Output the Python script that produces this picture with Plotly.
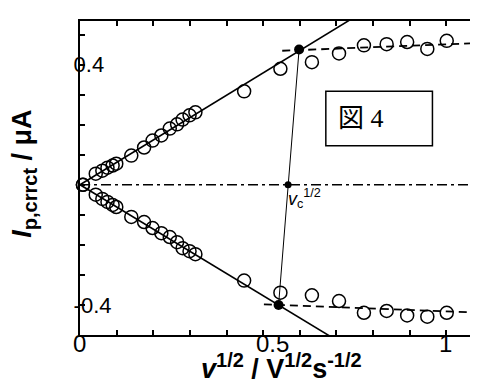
import plotly.graph_objects as go

# ---- data ----
x_sqrt_v = [0.008, 0.043, 0.061, 0.075, 0.089, 0.099, 0.140, 0.175, 0.198, 0.222,
            0.245, 0.265, 0.280, 0.299, 0.315, 0.448, 0.547, 0.633, 0.707, 0.775,
            0.837, 0.893, 0.948, 1.001]
ip_upper = [0.000, 0.037, 0.047, 0.057, 0.064, 0.070, 0.097, 0.124, 0.147, 0.164,
            0.187, 0.201, 0.217, 0.231, 0.241, 0.311, 0.386, 0.408, 0.437, 0.464,
            0.468, 0.475, 0.452, 0.479]
ip_lower = [0.000, -0.033, -0.047, -0.057, -0.067, -0.074, -0.107, -0.124, -0.144, -0.161,
            -0.174, -0.191, -0.211, -0.221, -0.231, -0.319, -0.359, -0.368, -0.387, -0.426,
            -0.420, -0.435, -0.439, -0.426]

fit_up_x = [0.0, 0.76]
fit_up_y = [0.0, 0.566]
fit_lo_x = [0.0, 0.70]
fit_lo_y = [0.0, -0.517]
plateau_up_x = [0.552, 1.1]
plateau_up_y = [0.446, 0.472]
plateau_lo_x = [0.502, 1.1]
plateau_lo_y = [-0.398, -0.426]
cross_x = [0.598, 0.542]
cross_y = [0.450, -0.400]
vc_x = [0.568]
vc_y = [0.0]
zero_x = [0.0, 1.1]
zero_y = [0.0, 0.0]

x_tickvals = [round(i * 0.1, 1) for i in range(12)]
x_label_vals = [0, 0.5, 1]
x_label_text = ["0", "0.5", "1"]
y_tickvals = [round(-0.5 + i * 0.1, 1) for i in range(11)]
y_ticktext = ["", "-0.4", "", "", "", "", "", "", "", "0.4", ""]

FONT = "'Liberation Sans', Arial, sans-serif"

fig = go.Figure()
fig.add_trace(go.Scatter(x=zero_x, y=zero_y, mode="lines",
                         line=dict(color="black", width=1.5, dash="10px,4px,3px,4px")))
fig.add_trace(go.Scatter(x=fit_up_x, y=fit_up_y, mode="lines",
                         line=dict(color="black", width=1.6)))
fig.add_trace(go.Scatter(x=fit_lo_x, y=fit_lo_y, mode="lines",
                         line=dict(color="black", width=1.6)))
fig.add_trace(go.Scatter(x=plateau_up_x, y=plateau_up_y, mode="lines",
                         line=dict(color="black", width=1.8, dash="8px,5px")))
fig.add_trace(go.Scatter(x=plateau_lo_x, y=plateau_lo_y, mode="lines",
                         line=dict(color="black", width=1.8, dash="8px,5px")))
fig.add_trace(go.Scatter(x=cross_x, y=cross_y, mode="lines",
                         line=dict(color="black", width=1)))
fig.add_trace(go.Scatter(x=x_sqrt_v, y=ip_upper, mode="markers", cliponaxis=False,
                         marker=dict(symbol="circle-open", size=13, color="black",
                                     line=dict(width=1.5, color="black"))))
fig.add_trace(go.Scatter(x=x_sqrt_v, y=ip_lower, mode="markers", cliponaxis=False,
                         marker=dict(symbol="circle-open", size=13, color="black",
                                     line=dict(width=1.5, color="black"))))
fig.add_trace(go.Scatter(x=cross_x, y=cross_y, mode="markers",
                         marker=dict(symbol="circle", size=10, color="black")))
fig.add_trace(go.Scatter(x=vc_x, y=vc_y, mode="markers",
                         marker=dict(symbol="circle", size=7, color="black")))

fig.add_shape(type="rect", xref="x", yref="y", x0=0.671, x1=0.962, y0=0.130, y1=0.311,
              line=dict(color="black", width=1.5), fillcolor="rgba(0,0,0,0)")

fig.add_annotation(x=0.768, y=0.221, xref="x", yref="y", text="図 4", showarrow=False,
                   font=dict(family="'Liberation Serif', 'Noto Sans CJK JP', serif", size=26, color="black"))
fig.add_annotation(x=0.562, y=-0.045, xref="x", yref="y", xanchor="left", yanchor="middle",
                   text="<i>v</i><sub>c</sub><sup>1/2</sup>", showarrow=False,
                   font=dict(family=FONT, size=18, color="black"))

for xv, xt in zip(x_label_vals, x_label_text):
    fig.add_annotation(x=xv, y=-0.027, xref="x", yref="paper", xanchor="left", yanchor="middle",
                       xshift=-9, text=xt, showarrow=False,
                       font=dict(family=FONT, size=24, color="black"))

fig.add_annotation(x=0.5, y=-0.038, xref="paper", yref="paper", xanchor="center", yanchor="top",
                   text="<b><i>v</i><sup><span style='font-size:20px'>1/2</span></sup> / V"
                        "<sup><span style='font-size:20px'>1/2</span></sup>s"
                        "<sup><span style='font-size:20px'>-1/2</span></sup></b>",
                   showarrow=False, font=dict(family=FONT, size=27, color="black"))
fig.add_annotation(x=-0.138, y=0.515, xref="paper", yref="paper", xanchor="center", yanchor="middle",
                   textangle=-90,
                   text="<b><i>I</i><sub><span style='font-size:20px'>p,crrct</span></sub> / μA</b>",
                   showarrow=False, font=dict(family=FONT, size=27, color="black"))

fig.update_xaxes(range=[0, 1.1], tickvals=x_tickvals, showticklabels=False,
                 ticks="inside", ticklen=5, tickwidth=1.5, tickcolor="black",
                 showline=True, linewidth=2, linecolor="black", mirror="allticks",
                 showgrid=False, zeroline=False)
fig.update_yaxes(range=[-0.5, 0.545], tickvals=y_tickvals, ticktext=y_ticktext,
                 ticks="inside", ticklen=5, tickwidth=1.5, tickcolor="black",
                 showline=True, linewidth=2, linecolor="black", mirror="allticks",
                 showgrid=False, zeroline=False, ticklabelposition="inside",
                 ticklabelstandoff=-10,
                 tickfont=dict(family=FONT, size=22, color="black"))

fig.update_layout(width=478, height=385, margin=dict(l=72, r=1, t=13, b=58),
                  plot_bgcolor="white", paper_bgcolor="white", showlegend=False)

fig.write_html("out.html")
